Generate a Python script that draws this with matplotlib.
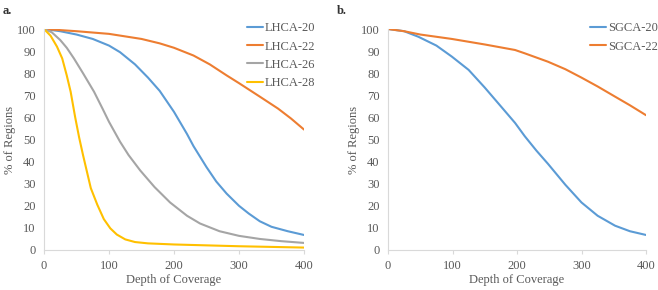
import matplotlib.pyplot as plt

# ------------------------------
# Data
# ------------------------------
x_lhca20 = [0, 25, 50, 75, 100, 117, 140, 160, 178, 200, 220, 230, 250, 265, 281, 300, 315, 332, 350, 375, 400]
y_lhca20 = [100, 99, 97.5, 95.5, 92.5, 89.5, 84, 78, 72, 62.5, 52.5, 47, 37.5, 31, 25.5, 20, 16.5, 13, 10.5, 8.5, 6.8]

x_lhca22 = [0, 50, 100, 150, 178, 200, 230, 255, 281, 300, 332, 360, 380, 400]
y_lhca22 = [100, 99, 97.8, 95.5, 93.5, 91.5, 88, 84, 79, 75.5, 69.4, 64, 59.5, 54.5]

x_lhca26 = [0, 12, 25, 35, 46, 60, 77, 90, 100, 117, 130, 148, 170, 194, 220, 240, 270, 300, 332, 365, 400]
y_lhca26 = [100, 98.5, 95, 91.5, 86.7, 80, 71.6, 64, 58, 49, 43, 36, 28.5, 21.5, 15.5, 12, 8.5, 6.4, 5, 4, 3.2]

x_lhca28 = [0, 10, 20, 28, 35, 41, 48, 54, 60, 66, 72, 82, 92, 102, 112, 125, 140, 160, 200, 250, 300, 350, 400]
y_lhca28 = [100, 97, 92, 86.7, 79, 71.6, 60, 51, 43, 35.5, 28, 20.5, 14, 9.8, 7, 4.8, 3.6, 3.0, 2.5, 2.1, 1.7, 1.4, 1.1]

x_sgca20 = [0, 25, 47, 75, 99, 125, 150, 175, 197, 212, 230, 248, 275, 300, 325, 352, 375, 400]
y_sgca20 = [100, 99, 96.5, 92.5, 87.5, 81.5, 73.5, 65, 57.5, 51.5, 45, 39, 29.5, 21.5, 15.5, 11, 8.5, 6.8]

x_sgca22 = [0, 25, 50, 99, 150, 197, 212, 248, 275, 300, 325, 352, 375, 400]
y_sgca22 = [100, 99, 97.5, 95.5, 93, 90.5, 89, 85.2, 81.8, 78, 74, 69.4, 65.5, 61]

x_ticks = [0, 100, 200, 300, 400]
y_ticks = [0, 10, 20, 30, 40, 50, 60, 70, 80, 90, 100]

BLUE = "#5B9BD5"
ORANGE = "#ED7D31"
GRAY = "#A5A5A5"
YELLOW = "#FFC000"
TXT = "#595959"
FS = 9

plt.rcParams["font.family"] = ["Liberation Serif", "DejaVu Serif"]
plt.rcParams["font.size"] = FS
plt.rcParams["lines.solid_capstyle"] = "round"
plt.rcParams["lines.solid_joinstyle"] = "round"

fig = plt.figure(figsize=(6.58, 2.9), dpi=100)
ax1 = fig.add_axes([44 / 658, 40 / 290, 260 / 658, 221 / 290])
ax2 = fig.add_axes([388 / 658, 40 / 290, 258 / 658, 221 / 290])


def style(ax):
    ax.set_xlim(0, 400)
    ax.set_ylim(0, 100)
    ax.set_xticks(x_ticks)
    ax.set_yticks(y_ticks)
    for s in ["top", "right"]:
        ax.spines[s].set_visible(False)
    for s in ["left", "bottom"]:
        ax.spines[s].set_color("#D9D9D9")
        ax.spines[s].set_linewidth(0.8)
    ax.tick_params(axis="x", length=3, color="#D9D9D9", labelcolor=TXT, labelsize=FS, pad=4)
    ax.tick_params(axis="y", length=0, labelcolor=TXT, labelsize=FS, pad=6)
    ax.set_xlabel("Depth of Coverage", color=TXT, fontsize=FS, labelpad=2)
    ax.set_ylabel("% of Regions", color=TXT, fontsize=FS, labelpad=1)


def legend(ax, x0):
    ax.legend(loc="upper left", bbox_to_anchor=(x0, 1.03), frameon=False,
              fontsize=FS, handlelength=1.3, handletextpad=0.15, labelspacing=0.5,
              borderaxespad=0, borderpad=0, labelcolor=TXT)


# ------------------------------
# Panel a
# ------------------------------
ax1.plot(x_lhca20, y_lhca20, color=BLUE, lw=1.5, label="LHCA-20")
ax1.plot(x_lhca22, y_lhca22, color=ORANGE, lw=1.5, label="LHCA-22")
ax1.plot(x_lhca26, y_lhca26, color=GRAY, lw=1.5, label="LHCA-26")
ax1.plot(x_lhca28, y_lhca28, color=YELLOW, lw=1.5, label="LHCA-28")
style(ax1)
legend(ax1, 0.78)

# ------------------------------
# Panel b
# ------------------------------
ax2.plot(x_sgca20, y_sgca20, color=BLUE, lw=1.5, label="SGCA-20")
ax2.plot(x_sgca22, y_sgca22, color=ORANGE, lw=1.5, label="SGCA-22")
style(ax2)
legend(ax2, 0.783)

fig.text(3 / 658, 1 - 14 / 290, "a.", fontsize=FS, fontweight="bold", color="#333333")
fig.text(337 / 658, 1 - 14 / 290, "b.", fontsize=FS, fontweight="bold", color="#333333")

fig.savefig("out.png", dpi=100)
